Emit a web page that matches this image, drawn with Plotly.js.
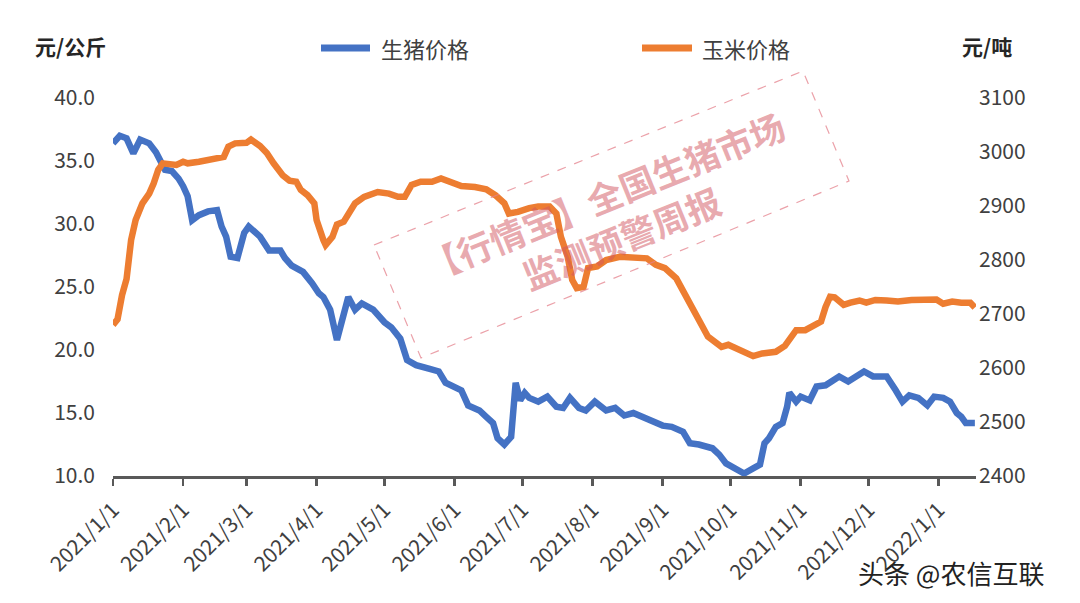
<!DOCTYPE html>
<html>
<head>
<meta charset="utf-8">
<script src="https://cdn.plot.ly/plotly-3.0.1.min.js"></script>
<style>html,body{margin:0;padding:0;background:#fff;}#chart{width:1080px;height:603px;}</style>
</head>
<body>
<div id="chart"></div>
<script>
// ---- data ----
const pigDates = ["2021-01-01","2021-01-04","2021-01-07","2021-01-10","2021-01-13","2021-01-17","2021-01-20","2021-01-22","2021-01-24","2021-01-27","2021-01-30",
"2021-02-01","2021-02-03","2021-02-05","2021-02-08","2021-02-12","2021-02-16","2021-02-18","2021-02-20","2021-02-22","2021-02-25","2021-02-28",
"2021-03-02","2021-03-07","2021-03-11","2021-03-16","2021-03-18","2021-03-21","2021-03-26","2021-03-30",
"2021-04-02","2021-04-04","2021-04-07","2021-04-10","2021-04-15","2021-04-18","2021-04-21","2021-04-26",
"2021-05-01","2021-05-04","2021-05-08","2021-05-11","2021-05-15","2021-05-21","2021-05-25","2021-05-28",
"2021-06-02","2021-06-04","2021-06-07","2021-06-12","2021-06-15","2021-06-18","2021-06-20","2021-06-23","2021-06-26","2021-06-28","2021-06-30",
"2021-07-02","2021-07-04","2021-07-08","2021-07-12","2021-07-16","2021-07-19","2021-07-22","2021-07-26","2021-07-29",
"2021-08-02","2021-08-07","2021-08-11","2021-08-15","2021-08-19","2021-08-23","2021-08-28",
"2021-09-01","2021-09-05","2021-09-10","2021-09-13","2021-09-17","2021-09-23","2021-09-26","2021-09-29",
"2021-10-03","2021-10-07","2021-10-11","2021-10-14","2021-10-16","2021-10-18","2021-10-21","2021-10-24","2021-10-26","2021-10-27","2021-10-30",
"2021-11-01","2021-11-05","2021-11-08","2021-11-12","2021-11-14","2021-11-18","2021-11-22","2021-11-25","2021-11-29",
"2021-12-03","2021-12-09","2021-12-13","2021-12-16","2021-12-19","2021-12-23","2021-12-27","2021-12-30",
"2022-01-03","2022-01-06","2022-01-09","2022-01-11","2022-01-13","2022-01-17"];
const pigPrice = [36.4,37.0,36.8,35.6,36.7,36.4,35.7,34.9,34.3,34.2,33.6,
33.0,32.2,30.3,30.7,31.0,31.1,29.8,29.0,27.4,27.3,29.3,
29.8,29.0,27.9,27.9,27.3,26.7,26.2,25.3,
24.5,24.2,23.2,20.8,24.2,23.2,23.7,23.2,
22.2,21.8,20.9,19.2,18.8,18.5,18.3,17.4,
17.0,16.8,15.6,15.2,14.7,14.2,13.0,12.5,13.1,17.4,16.0,
16.6,16.2,15.9,16.3,15.5,15.4,16.2,15.4,15.2,
15.9,15.2,15.4,14.8,15.0,14.7,14.2,
14.0,13.9,13.5,12.6,12.5,12.2,11.7,11.0,
10.6,10.2,10.6,10.9,12.6,13.0,13.9,14.2,15.5,16.6,15.9,
16.3,16.0,17.1,17.2,17.4,17.9,17.5,17.9,18.3,
17.9,17.9,16.8,15.9,16.4,16.2,15.6,16.3,
16.2,15.9,15.0,14.7,14.2,14.2];

const cornDates = ["2021-01-01","2021-01-03","2021-01-05","2021-01-07","2021-01-09","2021-01-11","2021-01-14","2021-01-17","2021-01-19","2021-01-21","2021-01-23","2021-01-26","2021-01-29",
"2021-02-01","2021-02-03","2021-02-08","2021-02-12","2021-02-17","2021-02-19","2021-02-21","2021-02-24",
"2021-03-01","2021-03-03","2021-03-07","2021-03-10","2021-03-13","2021-03-17","2021-03-20","2021-03-23","2021-03-25","2021-03-28","2021-03-31",
"2021-04-01","2021-04-04","2021-04-05","2021-04-08","2021-04-10","2021-04-13","2021-04-15","2021-04-18","2021-04-22","2021-04-28",
"2021-05-03","2021-05-07","2021-05-10","2021-05-13","2021-05-17","2021-05-22","2021-05-26",
"2021-06-01","2021-06-04","2021-06-10","2021-06-15","2021-06-19","2021-06-23","2021-06-25","2021-06-29",
"2021-07-04","2021-07-08","2021-07-13","2021-07-16","2021-07-18","2021-07-21","2021-07-23","2021-07-25","2021-07-28","2021-07-30",
"2021-08-03","2021-08-07","2021-08-13","2021-08-19","2021-08-25","2021-08-29",
"2021-09-02","2021-09-07","2021-09-10","2021-09-13","2021-09-17","2021-09-21","2021-09-27","2021-09-30",
"2021-10-05","2021-10-11","2021-10-15","2021-10-21","2021-10-25","2021-10-28","2021-10-30",
"2021-11-03","2021-11-06","2021-11-10","2021-11-12","2021-11-14","2021-11-16","2021-11-20","2021-11-23","2021-11-27","2021-11-30",
"2021-12-04","2021-12-09","2021-12-14","2021-12-20","2021-12-26","2021-12-31",
"2022-01-03","2022-01-07","2022-01-11","2022-01-15","2022-01-17"];
const cornPrice = [2680,2690,2735,2765,2837,2874,2905,2923,2942,2967,2979,2976,2976,
2982,2979,2982,2985,2988,2991,3010,3016,
3017,3023,3011,2998,2979,2957,2947,2945,2930,2920,2905,
2874,2837,2828,2843,2866,2871,2885,2905,2917,2926,
2923,2917,2917,2939,2945,2945,2951,
2942,2937,2935,2931,2920,2905,2886,2889,
2896,2899,2899,2886,2843,2806,2763,2748,2750,2785,
2788,2800,2806,2805,2803,2791,
2785,2766,2744,2723,2689,2658,2639,2643,
2633,2622,2627,2630,2641,2661,2670,
2670,2676,2686,2713,2732,2731,2717,2721,2725,2721,
2726,2725,2723,2726,2726,2727,
2719,2723,2721,2721,2712];

const tickDates = ["2021-01-01","2021-02-01","2021-03-01","2021-04-01","2021-05-01","2021-06-01","2021-07-01","2021-08-01","2021-09-01","2021-10-01","2021-11-01","2021-12-01","2022-01-01"];
const tickLabels = ["2021/1/1","2021/2/1","2021/3/1","2021/4/1","2021/5/1","2021/6/1","2021/7/1","2021/8/1","2021/9/1","2021/10/1","2021/11/1","2021/12/1","2022/1/1"];
const seriesNames = ["生猪价格","玉米价格"];

// ---- layout geometry ----
const W = 1080, H = 603;
const M = {l: 113, r: 104, t: 98, b: 127};
const PW = W - M.l - M.r, PH = H - M.t - M.b;
const px = x => (x - M.l) / PW;
const py = y => (H - M.b - y) / PH;

const FONT = '"Noto Sans CJK SC", "Noto Sans", sans-serif';
const BLUE = '#4472C4', ORANGE = '#ED7D31';

const traces = [
  {x: pigDates, y: pigPrice, name: seriesNames[0], type: 'scatter', mode: 'lines',
   line: {color: BLUE, width: 6.5}, yaxis: 'y', showlegend: false, hoverinfo: 'skip'},
  {x: cornDates, y: cornPrice, name: seriesNames[1], type: 'scatter', mode: 'lines',
   line: {color: ORANGE, width: 6.5}, yaxis: 'y2', showlegend: false, hoverinfo: 'skip'}
];

// watermark stamp corners (pixels)
const stamp = [[374,245],[803,71],[849,181],[421,358]];
const stampPath = stamp.map((p,i)=>(i?'L':'M')+px(p[0]).toFixed(4)+','+py(p[1]).toFixed(4)).join(' ')+' Z';

const layout = {
  width: W, height: H,
  margin: {l: M.l, r: M.r, t: M.t, b: M.b, pad: 0},
  paper_bgcolor: '#fff', plot_bgcolor: '#fff',
  font: {family: FONT, color: '#404040'},
  showlegend: false,
  xaxis: {
    type: 'date', range: ['2021-01-01', '2022-01-17 12:00'],
    tickvals: tickDates, ticktext: tickLabels, tickangle: -45,
    tickfont: {size: 21, color: '#404040', family: FONT},
    showgrid: false, zeroline: false,
    showline: true, linecolor: '#595959', linewidth: 2.5,
    ticks: 'outside', ticklen: 7, tickwidth: 2.5, tickcolor: '#595959',
    ticklabelstandoff: 4
  },
  yaxis: {
    range: [10, 40], dtick: 5, tick0: 10, tickformat: '.1f',
    showgrid: false, zeroline: false, showline: false, ticks: '',
    tickfont: {size: 21, color: '#404040', family: FONT},
    ticklabelstandoff: 17
  },
  yaxis2: {
    range: [2400, 3100], dtick: 100, tick0: 2400, overlaying: 'y', side: 'right',
    showgrid: false, zeroline: false, showline: false, ticks: '',
    tickfont: {size: 21, color: '#404040', family: FONT},
    ticklabelstandoff: 2
  },
  shapes: [
    {type: 'line', xref: 'paper', yref: 'paper', x0: px(321), x1: px(370), y0: py(48), y1: py(48),
     line: {color: BLUE, width: 7}},
    {type: 'line', xref: 'paper', yref: 'paper', x0: px(642), x1: px(692), y0: py(48), y1: py(48),
     line: {color: ORANGE, width: 7}},
    {type: 'path', xref: 'paper', yref: 'paper', path: stampPath,
     line: {color: 'rgba(228,130,140,0.75)', width: 1.2, dash: 'dash'}, layer: 'above'}
  ],
  annotations: [
    {xref: 'paper', yref: 'paper', x: px(379), y: py(48), xanchor: 'left', yanchor: 'middle',
     text: seriesNames[0], showarrow: false, font: {size: 22, color: '#404040', family: FONT}},
    {xref: 'paper', yref: 'paper', x: px(700), y: py(48), xanchor: 'left', yanchor: 'middle',
     text: seriesNames[1], showarrow: false, font: {size: 22, color: '#404040', family: FONT}},
    {xref: 'paper', yref: 'paper', x: px(70), y: py(46), xanchor: 'center', yanchor: 'middle',
     text: '<b>元/公斤</b>', showarrow: false, font: {size: 21, color: '#262626', family: FONT}},
    {xref: 'paper', yref: 'paper', x: px(987), y: py(46), xanchor: 'center', yanchor: 'middle',
     text: '<b>元/吨</b>', showarrow: false, font: {size: 21, color: '#262626', family: FONT}},
    {xref: 'paper', yref: 'paper', x: px(612), y: py(216), xanchor: 'center', yanchor: 'middle',
     text: '【行情宝】全国生猪市场<br>监测预警周报', textangle: -22, showarrow: false,
     font: {size: 35, color: 'rgba(210,85,95,0.5)', family: FONT, weight: 700}},
    {xref: 'paper', yref: 'paper', x: px(951), y: py(572), xanchor: 'center', yanchor: 'middle',
     text: '头条 @农信互联', showarrow: false, font: {size: 26, color: '#222', family: FONT}}
  ]
};

Plotly.newPlot('chart', traces, layout, {staticPlot: true, displayModeBar: false});
</script>
</body>
</html>
